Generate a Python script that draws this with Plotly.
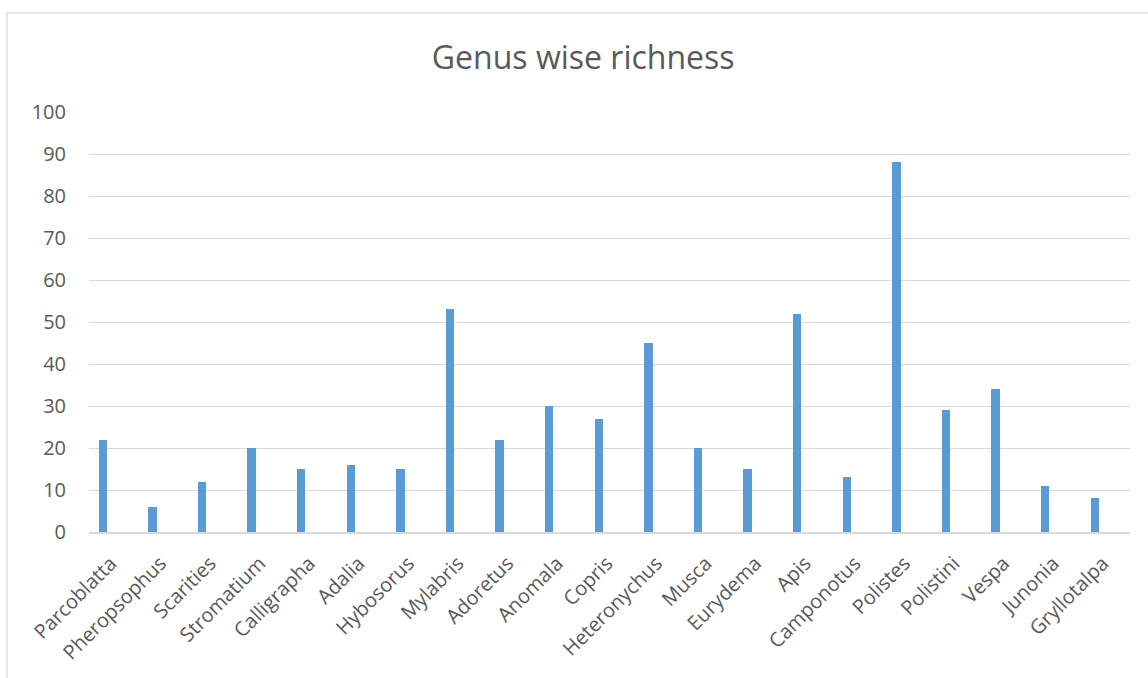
import plotly.graph_objects as go

genera = ["Parcoblatta", "Pheropsophus", "Scarities", "Stromatium", "Calligrapha",
          "Adalia", "Hybosorus", "Mylabris", "Adoretus", "Anomala", "Copris",
          "Heteronychus", "Musca", "Eurydema", "Apis", "Camponotus", "Polistes",
          "Polistini", "Vespa", "Junonia", "Gryllotalpa"]
richness = [22, 6, 12, 20, 15, 16, 15, 53, 22, 30, 27, 45, 20, 15, 52, 13, 88, 29, 34, 11, 8]

y_ticks = list(range(0, 101, 10))

FONT = "Open Sans"
TEXT = "#595959"
GRID = "#d9d9d9"

fig = go.Figure(
    go.Bar(
        x=genera,
        y=richness,
        marker=dict(color="#5b9bd5", line=dict(width=0)),
        width=0.17,
    )
)

fig.update_layout(
    width=1148,
    height=678,
    margin=dict(l=89, r=18, t=112, b=146),
    paper_bgcolor="white",
    plot_bgcolor="white",
    showlegend=False,
    title=dict(
        text="Genus wise richness",
        x=0.508,
        xanchor="center",
        y=0.915,
        yanchor="middle",
        font=dict(family=FONT, size=32, color=TEXT),
    ),
    font=dict(family=FONT, color=TEXT),
    bargap=0,
)

fig.update_xaxes(
    range=[-0.28, 20.71],
    tickangle=-45,
    tickfont=dict(family=FONT, size=20, color=TEXT),
    showgrid=False,
    showline=True,
    linecolor=GRID,
    linewidth=1.5,
    ticks="",
    ticklabelstandoff=10,
    ticklabelshift=8,
)

fig.update_yaxes(
    range=[0, 100],
    tickvals=y_ticks,
    tickfont=dict(family=FONT, size=20, color=TEXT),
    showgrid=True,
    gridcolor=GRID,
    gridwidth=1.3,
    zeroline=False,
    showline=False,
    ticks="",
    ticklabelstandoff=22,
)

# light frame around the whole chart area
fig.add_shape(
    type="rect", xref="paper", yref="paper",
    x0=-0.0788, x1=1.05, y0=-0.45, y1=1.236,
    line=dict(color=GRID, width=1.3),
    fillcolor="rgba(0,0,0,0)",
    layer="below",
)

fig.write_html("out.html")
